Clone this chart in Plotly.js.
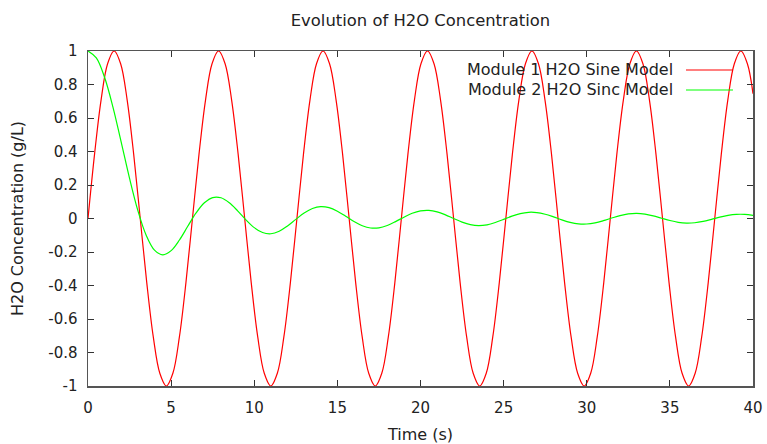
<!DOCTYPE html>
<html>
<head>
<meta charset="utf-8">
<script src="https://cdn.plot.ly/plotly-3.0.1.min.js"></script>
<style>html,body{margin:0;padding:0;background:#fff;}#chart{width:767px;height:444px;}</style>
</head>
<body>
<div id="chart"></div>
<script>
// Module 1 sample times (s), read at quarter-peak spacing
var timeSine = [0,0.3927,0.7854,1.1781,1.5708,1.9635,2.3562,2.7489,3.1416,3.5343,3.9270,4.3197,4.7124,5.1051,5.4978,5.8905,
  6.2832,6.6759,7.0686,7.4613,7.8540,8.2467,8.6394,9.0321,9.4248,9.8175,10.2102,10.6029,10.9956,11.3883,11.7810,12.1737,
  12.5664,12.9591,13.3518,13.7445,14.1372,14.5299,14.9226,15.3153,15.7080,16.1007,16.4934,16.8861,17.2788,17.6715,18.0642,18.4569,
  18.8496,19.2423,19.6350,20.0277,20.4204,20.8131,21.2058,21.5985,21.9911,22.3838,22.7765,23.1692,23.5619,23.9546,24.3473,24.7400,
  25.1327,25.5254,25.9181,26.3108,26.7035,27.0962,27.4889,27.8816,28.2743,28.6670,29.0597,29.4524,29.8451,30.2378,30.6305,31.0232,
  31.4159,31.8086,32.2013,32.5940,32.9867,33.3794,33.7721,34.1648,34.5575,34.9502,35.3429,35.7356,36.1283,36.5210,36.9137,37.3064,
  37.6991,38.0918,38.4845,38.8772,39.2699,39.6626,40];
// Module 1 H2O Sine Model (g/L)
var module1 = [0,0.3827,0.7071,0.9239,1,0.9239,0.7071,0.3827,0,-0.3827,-0.7071,-0.9239,-1,-0.9239,-0.7071,-0.3827,
  0,0.3827,0.7071,0.9239,1,0.9239,0.7071,0.3827,0,-0.3827,-0.7071,-0.9239,-1,-0.9239,-0.7071,-0.3827,
  0,0.3827,0.7071,0.9239,1,0.9239,0.7071,0.3827,0,-0.3827,-0.7071,-0.9239,-1,-0.9239,-0.7071,-0.3827,
  0,0.3827,0.7071,0.9239,1,0.9239,0.7071,0.3827,0,-0.3827,-0.7071,-0.9239,-1,-0.9239,-0.7071,-0.3827,
  0,0.3827,0.7071,0.9239,1,0.9239,0.7071,0.3827,0,-0.3827,-0.7071,-0.9239,-1,-0.9239,-0.7071,-0.3827,
  0,0.3827,0.7071,0.9239,1,0.9239,0.7071,0.3827,0,-0.3827,-0.7071,-0.9239,-1,-0.9239,-0.7071,-0.3827,
  0,0.3827,0.7071,0.9239,1,0.9239,0.7451];
// Module 2 sample times (s)
var timeSinc = [0,0.5,1,1.5,2,2.5,3,3.5,4,4.5,5,5.5,6,6.5,7,7.5,8,8.5,9,9.5,10,10.5,11,11.5,12,12.5,13,13.5,14,14.5,15,15.5,16,16.5,17,17.5,18,18.5,19,19.5,20,20.5,21,21.5,22,22.5,23,23.5,24,24.5,25,25.5,26,26.5,27,27.5,28,28.5,29,29.5,30,30.5,31,31.5,32,32.5,33,33.5,34,34.5,35,35.5,36,36.5,37,37.5,38,38.5,39,39.5,40];
// Module 2 H2O Sinc Model (g/L)
var module2 = [1,0.9589,0.8415,0.6650,0.4546,0.2394,0.0470,-0.1002,-0.1892,-0.2172,-0.1918,-0.1283,-0.0466,0.0331,0.0939,0.1251,0.1237,0.0939,0.0458,-0.0079,-0.0544,-0.0838,-0.0909,-0.0761,-0.0447,-0.0053,0.0323,0.0595,0.0708,0.0645,0.0434,0.0133,-0.0180,-0.0431,-0.0566,-0.0557,-0.0417,-0.0185,0.0079,0.0311,0.0456,0.0486,0.0398,0.0219,-0.0004,-0.0217,-0.0368,-0.0425,-0.0377,-0.0241,-0.0053,0.0141,0.0293,0.0370,0.0354,0.0254,0.0097,-0.0079,-0.0229,-0.0319,-0.0329,-0.0260,-0.0130,0.0027,0.0172,0.0272,0.0303,0.0260,0.0156,0.0017,-0.0122,-0.0228,-0.0276,-0.0255,-0.0174,-0.0053,0.0078,0.0186,0.0247,0.0246,0.0186];
var seriesNames = ["Module 1 H2O Sine Model", "Module 2 H2O Sinc Model"];
var seriesColors = ["#ff0000", "#00ff00"];
var xTickVals = [0,5,10,15,20,25,30,35,40];
var xTickText = ["0","5","10","15","20","25","30","35","40"];
var yTickVals = [-1,-0.8,-0.6,-0.4,-0.2,0,0.2,0.4,0.6,0.8,1];
var yTickText = ["-1","-0.8","-0.6","-0.4","-0.2","0","0.2","0.4","0.6","0.8","1"];

var fam = "DejaVu Sans, sans-serif";
var font = {family: fam, size: 16, color: "#222"};
var titleFont = {family: fam, size: 16.4, color: "#222"};
var tickFont = {family: fam, size: 15, color: "#222"};
var traces = [
  {x: timeSine, y: module1, mode: "lines", name: seriesNames[0], line: {color: seriesColors[0], width: 1.2, shape: "spline", smoothing: 1}},
  {x: timeSinc, y: module2, mode: "lines", name: seriesNames[1], line: {color: seriesColors[1], width: 1.2, shape: "spline", smoothing: 1}}
];
var axisCommon = {showgrid: false, zeroline: false, showline: true, linecolor: "#555", linewidth: 1.5,
  mirror: "ticks", ticks: "inside", ticklen: 6, tickwidth: 1, tickcolor: "#333", tickfont: tickFont};
var layout = {
  width: 767, height: 444,
  margin: {l: 88, r: 14, t: 51, b: 58},
  paper_bgcolor: "#fff", plot_bgcolor: "#fff",
  showlegend: false,
  font: font,
  title: {text: "Evolution of H2O Concentration", font: titleFont, xref: "paper", x: 0.5, xanchor: "center", y: 0.955, yanchor: "middle"},
  xaxis: Object.assign({}, axisCommon, {range: [0, 40], tickvals: xTickVals, ticktext: xTickText, ticklabelstandoff: 7,
    title: {text: "Time (s)", font: font, standoff: 15}}),
  yaxis: Object.assign({}, axisCommon, {range: [-1, 1], tickvals: yTickVals, ticktext: yTickText, ticklabelstandoff: 6,
    title: {text: "H2O Concentration (g/L)", font: font, standoff: 20}}),
  annotations: [
    {xref: "paper", yref: "paper", x: 0.8827, y: 0.9433, xanchor: "right", yanchor: "middle", text: seriesNames[0], showarrow: false, font: font},
    {xref: "paper", yref: "paper", x: 0.8827, y: 0.8836, xanchor: "right", yanchor: "middle", text: seriesNames[1], showarrow: false, font: font}
  ],
  shapes: [
    {type: "line", xref: "paper", yref: "paper", x0: 0.8992, x1: 0.9699, y0: 0.9433, y1: 0.9433, line: {color: seriesColors[0], width: 1.2}},
    {type: "line", xref: "paper", yref: "paper", x0: 0.8992, x1: 0.9699, y0: 0.8836, y1: 0.8836, line: {color: seriesColors[1], width: 1.2}}
  ]
};
Plotly.newPlot("chart", traces, layout, {staticPlot: true, displayModeBar: false});
</script>
</body>
</html>
